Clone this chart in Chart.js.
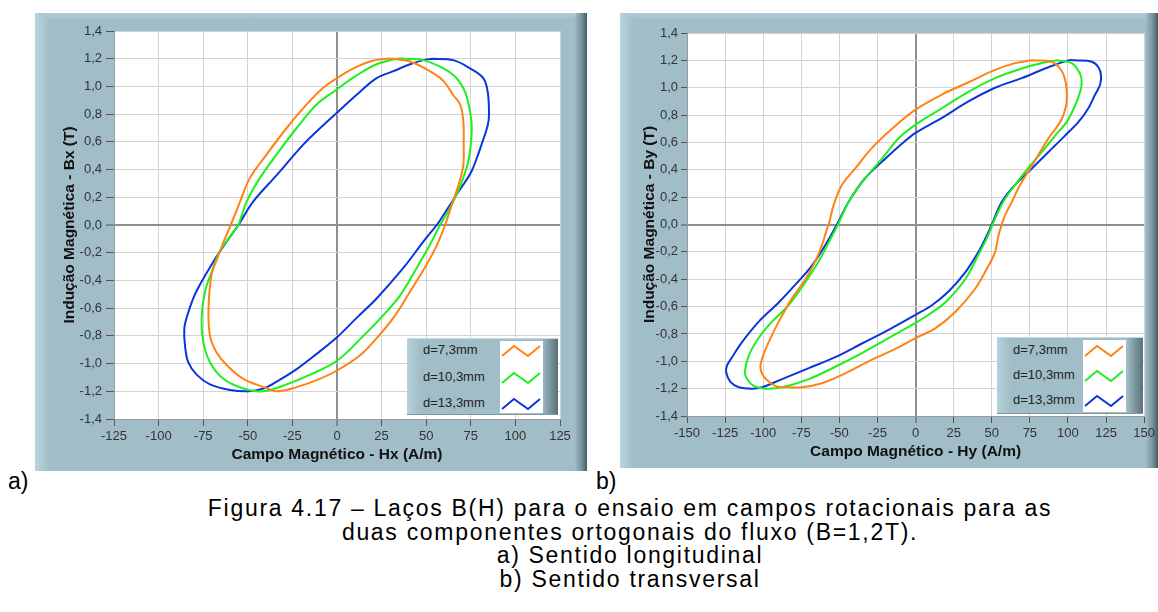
<!DOCTYPE html>
<html>
<head>
<meta charset="utf-8">
<script src="https://cdn.jsdelivr.net/npm/chart.js@4.4.1/dist/chart.umd.min.js"></script>
<style>
    body { margin: 0; background: #fff; width: 1158px; height: 612px; overflow: hidden; position: relative;
           font-family: "Liberation Sans", Arial, sans-serif; }
    .panel { position: absolute;
        background:
            linear-gradient(to right, #b6d5df 0, #aac8d2 9px, rgba(161,189,199,0) 13px),
            linear-gradient(to left, #465c64 0, #7d98a2 6px, #98b3bd 11px, rgba(161,189,199,0) 12px),
            linear-gradient(to bottom, #b2cdd6 0, rgba(161,189,199,0) 7px),
            #a1bdc7; }
    .panel canvas { position: absolute; left: 0; top: 0; }
    .legend { position: absolute;
        background:
            linear-gradient(to right, #b4d2dc 0, #a6c3cd 10px, rgba(161,189,199,0) 14px),
            linear-gradient(to left, #5a7078 0, #8ea8b2 12px, rgba(161,189,199,0) 16px),
            #a1bdc7;
        border-top: 1px solid #c3dbe3; border-bottom: 1px solid #7f979f; box-sizing: border-box; }
    .legend .sw { position: absolute; background: #fff; }
    .legend .txt { position: absolute; font-size: 13px; color: #222; line-height: 14px; }
    .legend svg { position: absolute; }
    .tag { position: absolute; font-size: 23px; color: #000; }
    .caption { position: absolute; left: 130px; width: 1000px; top: 497px; text-align: center;
               font-size: 23px; line-height: 23.7px; letter-spacing: 1.7px; color: #000; }
</style>
</head>
<body>
<div class="panel" id="panelA" style="left:35px;top:13px;width:552px;height:458px;">
    <canvas id="chartA" width="552" height="458"></canvas>
</div>
<div class="panel" id="panelB" style="left:620px;top:13px;width:538px;height:455px;">
    <canvas id="chartB" width="538" height="455"></canvas>
</div>
<div class="tag" style="left:8px;top:468px;">a)</div>
<div class="tag" style="left:596px;top:468px;">b)</div>
<div class="caption">
    Figura 4.17 – Laços B(H) para o ensaio em campos rotacionais para as<br>
    duas componentes ortogonais do fluxo (B=1,2T).<br>
    a) Sentido longitudinal<br>
    b) Sentido transversal
</div>
<script>
// Series labels and colours
const seriesLabels = ['d=7,3mm', 'd=10,3mm', 'd=13,3mm'];
const seriesColors = ['#ff8214', '#1eef1e', '#0a36dc'];

// a) longitudinal: Hx (A/m) vs Bx (T)
const hxA73 = [31, 41, 52, 59.6, 65, 69, 70.8, 71, 70.8, 68.6, 65, 60.6, 56, 50, 41, 31.6, 22, 13, 0, -11.4, -22.6, -33.8,
    -41, -52.5, -61.9, -67.5, -71.2, -72, -70.3, -66.8, -63.2, -59.6, -55.2, -48.8, -39.4, -28.2, -17, -7.7, 0, 9.2, 18.5, 27.9, 31];
const bxA73 = [1.2, 1.18, 1.11, 1.04, 0.94, 0.87, 0.75, 0.58, 0.43, 0.31, 0.17, 0, -0.145, -0.29, -0.48, -0.67, -0.82, -0.94, -1.05, -1.12, -1.17, -1.2,
    -1.17, -1.11, -1.01, -0.92, -0.8, -0.6, -0.36, -0.23, -0.11, 0, 0.14, 0.34, 0.51, 0.70, 0.87, 0.99, 1.06, 1.13, 1.18, 1.2, 1.2];
const hxA103 = [38, 48.4, 59.6, 67, 71.8, 74.2, 75.5, 75, 73.6, 70.8, 67, 62.4, 57.8, 52, 44.7, 35.3, 26, 14.8, 0, -15, -28.2, -41.3,
    -52.5, -63.7, -71.2, -75, -75.9, -74, -70.3, -65.6, -58, -55.3, -50.6, -43.2, -33.8, -22.6, -11.4, 0, 11, 22.2, 33.5, 38];
const bxA103 = [1.2, 1.19, 1.13, 1.06, 0.96, 0.84, 0.72, 0.58, 0.46, 0.34, 0.22, 0.10, 0, -0.145, -0.31, -0.51, -0.65, -0.8, -0.98, -1.08, -1.15, -1.2,
    -1.18, -1.11, -0.99, -0.84, -0.67, -0.48, -0.34, -0.19, -0.05, 0, 0.17, 0.34, 0.51, 0.70, 0.87, 0.98, 1.08, 1.16, 1.2, 1.2];
const hxA133 = [53, 65.2, 74.6, 82, 84.5, 85.2, 84.5, 81, 78.3, 75.5, 71.8, 68, 63.4, 59.6, 55.9, 48.4, 37.2, 22.2, 11, 0,
    -11.4, -22.6, -33.8, -41.3, -49.7, -60, -71.2, -78.7, -83.4, -85.2, -85.6, -84.3, -80.6, -76.8, -69.3, -61.9, -55.3, -46.9, -33.8, -18.9,
    -7.7, 0, 11, 22.2, 31.6, 41, 48.4, 53];
const bxA133 = [1.2, 1.19, 1.13, 1.06, 0.96, 0.80, 0.72, 0.58, 0.48, 0.39, 0.31, 0.24, 0.145, 0.07, 0, -0.12, -0.31, -0.53, -0.67, -0.81,
    -0.93, -1.04, -1.13, -1.18, -1.2, -1.19, -1.15, -1.08, -0.99, -0.87, -0.75, -0.67, -0.53, -0.43, -0.265, -0.12, 0, 0.17, 0.36, 0.58,
    0.72, 0.81, 0.94, 1.06, 1.11, 1.16, 1.19, 1.2];

// b) transversal: Hy (A/m) vs By (T)
const hyB73 = [76.3, 89.4, 96, 98.8, 99.2, 97, 93.8, 87.2, 81.7, 75.2, 68.6, 63.2, 58.8, 56.6, 54.4, 52.2, 47.9, 39.1, 26, 12.9,
    0, -13.3, -30.8, -48.3, -61.4, -74.5, -83.3, -92, -99.7, -101.8, -100.7, -96.4, -89.8, -81.1, -72.3, -65.8, -61.4, -58.1, -57, -53.8,
    -48.3, -39.6, -28.6, -15.5, 0, 17.3, 34.7, 52.2, 65.3, 76.3];
const byB73 = [1.2, 1.19, 1.12, 1.02, 0.9, 0.8, 0.73, 0.63, 0.53, 0.41, 0.29, 0.166, 0.07, 0, -0.08, -0.2, -0.3, -0.47, -0.64, -0.76,
    -0.83, -0.91, -1.0, -1.1, -1.16, -1.19, -1.19, -1.18, -1.11, -1.05, -0.98, -0.86, -0.71, -0.54, -0.4, -0.27, -0.15, -0.03, 0, 0.14,
    0.29, 0.41, 0.56, 0.70, 0.84, 0.95, 1.04, 1.13, 1.18, 1.2];
const hyB103 = [92, 102.5, 108, 109, 108, 104.7, 99.2, 91.6, 82.8, 75.2, 65.3, 57.7, 53.3, 50.5, 46.8, 41.3, 32.6, 19.4, 8.5, 0,
    -17.7, -35.2, -52.7, -70.1, -87.6, -98.6, -106.2, -110.6, -112, -109.5, -103, -94.2, -83.3, -72.3, -63.6, -57, -50.9, -43.9, -35.2, -22.1,
    -11.1, 0, 17.3, 34.7, 52.2, 69.7, 82.8, 92];
const byB103 = [1.2, 1.18, 1.1, 1.04, 0.97, 0.87, 0.75, 0.65, 0.53, 0.43, 0.29, 0.17, 0.07, 0, -0.1, -0.22, -0.4, -0.57, -0.66, -0.72,
    -0.83, -0.94, -1.04, -1.13, -1.19, -1.2, -1.18, -1.13, -1.08, -0.96, -0.83, -0.71, -0.59, -0.42, -0.27, -0.13, 0, 0.166, 0.31, 0.48,
    0.63, 0.73, 0.85, 0.97, 1.07, 1.14, 1.18, 1.2];
const hyB133 = [105, 115.6, 120, 121.7, 121, 117.8, 113.4, 106.9, 98.1, 87.2, 76.3, 65.3, 56.6, 50, 46.8, 41.3, 32.6, 21.6, 10.7,
    0, -17.7, -35.2, -52.7, -70.1, -87.6, -100.7, -107.3, -116, -121.5, -124.3, -123.7, -120.4, -113.9, -102.9, -89.8, -78.9, -68, -59.2, -51.6,
    -43.9, -33, -19.9, -9, 0, 17.3, 34.7, 52.2, 69.7, 87.2, 100.3, 105];
const byB133 = [1.2, 1.19, 1.15, 1.09, 1.02, 0.95, 0.85, 0.75, 0.65, 0.53, 0.41, 0.29, 0.166, 0, -0.08, -0.2, -0.35, -0.49, -0.59,
    -0.66, -0.77, -0.87, -0.97, -1.05, -1.13, -1.19, -1.2, -1.19, -1.15, -1.08, -1.03, -0.97, -0.86, -0.71, -0.57, -0.44, -0.3, -0.15, 0,
    0.166, 0.34, 0.48, 0.59, 0.67, 0.78, 0.9, 1.0, 1.07, 1.15, 1.2, 1.2];

// Axis ranges / tick steps
const hRangeA = [-125, 125];
const hRangeB = [-150, 150];
const hStep = 25;
const bRange = [-1.4, 1.4];
const bStep = 0.2;

const toPoints = (xs, ys) => xs.map((x, i) => ({ x: x, y: ys[i] }));

// white plot area behind the grid
const plotBackground = {
    id: 'plotBackground',
    beforeDraw(chart) {
        const { ctx, chartArea: a } = chart;
        ctx.save();
        ctx.fillStyle = '#ffffff';
        ctx.fillRect(a.left, a.top, a.right - a.left, a.bottom - a.top);
        ctx.restore();
    }
};

const isZero = v => Math.abs(v) < 1e-9;

function buildChart(id, loops, hRange, xTitle, yTitle, lay) {
    const tickFont = { family: '"Liberation Sans", Arial, sans-serif', size: 13 };
    const titleFont = { family: '"Liberation Sans", Arial, sans-serif', size: 15.5, weight: 'bold' };
    const gridOpts = (len) => ({
        color: c => isZero(c.tick.value) ? '#8f8f8f' : '#d3d3d3',
        lineWidth: c => isZero(c.tick.value) ? 2 : 1,
        tickColor: '#555',
        tickWidth: 1,
        tickLength: len
    });
    return new Chart(document.getElementById(id), {
        type: 'scatter',
        data: {
            datasets: loops.map((l, i) => ({
                label: seriesLabels[i],
                data: toPoints(l[0], l[1]),
                showLine: true,
                borderColor: seriesColors[i],
                backgroundColor: seriesColors[i],
                borderWidth: 2,
                pointRadius: 0,
                tension: 0.35,
                fill: false
            }))
        },
        options: {
            responsive: false,
            animation: false,
            layout: { padding: { left: 0, top: lay.top, right: lay.right, bottom: 0 } },
            plugins: { legend: { display: false }, tooltip: { enabled: false } },
            scales: {
                x: {
                    type: 'linear', min: hRange[0], max: hRange[1],
                    ticks: { stepSize: hStep, font: tickFont, color: '#333', padding: 3, maxRotation: 0,
                             callback: v => String(Math.round(v)) },
                    grid: gridOpts(7),
                    border: { display: true, color: '#9a9a9a' },
                    title: { display: true, text: xTitle, font: titleFont, color: '#111',
                             padding: { top: 0, bottom: lay.xTitlePad } },
                    afterFit: s => { s.height = lay.xHeight; }
                },
                y: {
                    type: 'linear', min: bRange[0], max: bRange[1],
                    ticks: { stepSize: bStep, font: tickFont, color: '#333', padding: lay.yTickPad,
                             callback: v => isZero(v) ? '0,0' : v.toFixed(1).replace('.', ',') },
                    grid: gridOpts(lay.yTickLen),
                    border: { display: true, color: '#9a9a9a' },
                    title: { display: true, text: yTitle, font: titleFont, color: '#111',
                             padding: { top: lay.yTitlePad, bottom: 0 } },
                    afterFit: s => { s.width = lay.yWidth; }
                }
            }
        },
        plugins: [plotBackground]
    });
}

function buildLegend(panelId, box) {
    const panel = document.getElementById(panelId);
    const lg = document.createElement('div');
    lg.className = 'legend';
    Object.assign(lg.style, { left: box.x + 'px', top: box.y + 'px', width: box.w + 'px', height: box.h + 'px' });
    const sw = document.createElement('div');
    sw.className = 'sw';
    Object.assign(sw.style, { left: box.swX + 'px', top: '2px', width: box.swW + 'px', height: (box.h - 5) + 'px' });
    lg.appendChild(sw);
    seriesLabels.forEach((lab, i) => {
        const cy = box.rows[i];
        const t = document.createElement('div');
        t.className = 'txt';
        t.textContent = lab;
        Object.assign(t.style, { left: box.txtX + 'px', top: (cy - 8) + 'px' });
        lg.appendChild(t);
        const ns = 'http://www.w3.org/2000/svg';
        const svg = document.createElementNS(ns, 'svg');
        svg.setAttribute('width', box.swW);
        svg.setAttribute('height', 14);
        svg.style.left = box.swX + 'px';
        svg.style.top = (cy - 7) + 'px';
        const pl = document.createElementNS(ns, 'polyline');
        pl.setAttribute('points', '2,12 14,2 28,12 40,2');
        pl.setAttribute('fill', 'none');
        pl.setAttribute('stroke', seriesColors[i]);
        pl.setAttribute('stroke-width', '2');
        svg.appendChild(pl);
        lg.appendChild(svg);
    });
    panel.appendChild(lg);
}

buildChart('chartA', [[hxA73, bxA73], [hxA103, bxA103], [hxA133, bxA133]], hRangeA,
    'Campo Magnético - Hx (A/m)', 'Indução Magnética - Bx (T)',
    { top: 18, right: 27, yWidth: 79, xHeight: 52, yTickLen: 8, yTickPad: 4, yTitlePad: 25.7, xTitlePad: 6.7 });
buildChart('chartB', [[hyB73, byB73], [hyB103, byB103], [hyB133, byB133]], hRangeB,
    'Campo Magnético - Hy (A/m)', 'Indução Magnética - By (T)',
    { top: 20, right: 13, yWidth: 67, xHeight: 52, yTickLen: 6, yTickPad: 3, yTitlePad: 20.7, xTitlePad: 6.7 });

buildLegend('panelA', { x: 372, y: 325, w: 151, h: 77, swX: 93, swW: 43, txtX: 16, rows: [12, 39, 65] });
buildLegend('panelB', { x: 377, y: 324, w: 146, h: 77, swX: 86, swW: 43, txtX: 16, rows: [13, 38, 63] });
</script>
</body>
</html>
